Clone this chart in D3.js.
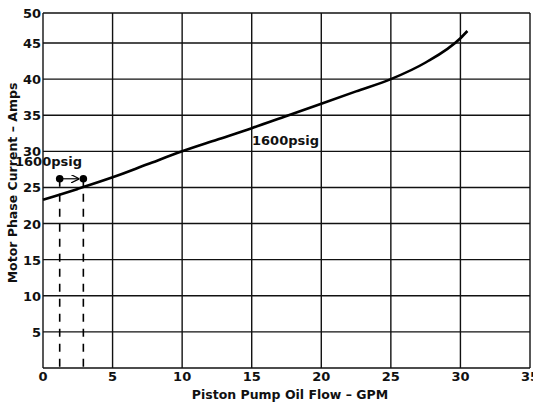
<!DOCTYPE html>
<html>
<head>
<meta charset="utf-8">
<script src="https://cdn.jsdelivr.net/npm/d3@7"></script>
<style>
  body { margin: 0; background: #fff; }
  svg { display: block; }
  .tick-label { font-family: "DejaVu Sans", sans-serif; font-weight: bold; font-size: 13px; fill: #111; }
  .title { font-family: "DejaVu Sans", sans-serif; font-weight: bold; font-size: 12.5px; fill: #111; }
  .note { font-family: "DejaVu Sans", sans-serif; font-weight: bold; font-size: 13px; fill: #111; }
</style>
</head>
<body>
<div id="vis1"></div>
<script>
// data
const FLOW = [0, 2.5, 5, 7.5, 10, 12.5, 15, 17.5, 20, 22.5, 25, 27.5, 30, 30.5];
const CURRENT = [23.3, 24.8, 26.4, 28.2, 30.0, 31.6, 33.2, 34.9, 36.6, 38.3, 40.0, 42.3, 45.8, 47.0];
const X_TICKS = [0, 5, 10, 15, 20, 25, 30, 35];
const Y_TICKS = [5, 10, 15, 20, 25, 30, 35, 40, 45, 50];
const MARKER_FLOW = [1.2, 2.9];
const MARKER_CURRENT = 26.2;
const LABEL = "1600psig";

// Frame
const FRAME_HEIGHT = 410;
const FRAME_WIDTH = 533;
const MARGINS = {left: 43, right: 3, top: 13, bottom: 42};

const FRAME1 = d3.select("#vis1")
                  .append("svg")
                    .attr("height", FRAME_HEIGHT)
                    .attr("width", FRAME_WIDTH);

// scales (the scan squeezes the top band a little)
const X_SCALE = d3.scaleLinear()
                    .domain([0, 35])
                    .range([MARGINS.left, FRAME_WIDTH - MARGINS.right]);

const Y_SCALE = d3.scaleLinear()
                    .domain([0, 45, 50])
                    .range([FRAME_HEIGHT - MARGINS.bottom, 43, MARGINS.top]);

// grid lines
FRAME1.selectAll(".vgrid")
      .data(X_TICKS)
      .enter()
      .append("line")
        .attr("x1", d => X_SCALE(d))
        .attr("x2", d => X_SCALE(d))
        .attr("y1", Y_SCALE(0))
        .attr("y2", Y_SCALE(50))
        .attr("stroke", "#111")
        .attr("stroke-width", 1.4);

FRAME1.selectAll(".hgrid")
      .data([0].concat(Y_TICKS))
      .enter()
      .append("line")
        .attr("x1", X_SCALE(0))
        .attr("x2", X_SCALE(35))
        .attr("y1", d => Y_SCALE(d))
        .attr("y2", d => Y_SCALE(d))
        .attr("stroke", "#111")
        .attr("stroke-width", 1.4);

// tick labels
FRAME1.selectAll(".xlab")
      .data(X_TICKS)
      .enter()
      .append("text")
        .attr("class", "tick-label")
        .attr("x", d => X_SCALE(d))
        .attr("y", 381)
        .attr("text-anchor", "middle")
        .text(d => d);

FRAME1.selectAll(".ylab")
      .data(Y_TICKS)
      .enter()
      .append("text")
        .attr("class", "tick-label")
        .attr("x", 41)
        .attr("y", d => Y_SCALE(d) + 5)
        .attr("text-anchor", "end")
        .text(d => d);

// axis titles
FRAME1.append("text")
      .attr("class", "title")
      .attr("x", 290)
      .attr("y", 399)
      .attr("text-anchor", "middle")
      .text("Piston Pump Oil Flow \u2013 GPM");

FRAME1.append("text")
      .attr("class", "title")
      .attr("transform", "translate(17," + 183 + ") rotate(-90)")
      .attr("text-anchor", "middle")
      .text("Motor Phase Current \u2013 Amps");

// current curve
const line = d3.line()
               .x((d, i) => X_SCALE(FLOW[i]))
               .y(d => Y_SCALE(d))
               .curve(d3.curveMonotoneX);

FRAME1.append("path")
      .datum(CURRENT)
      .attr("d", line)
      .attr("fill", "none")
      .attr("stroke", "#000")
      .attr("stroke-width", 2.6);

// dashed drop lines
FRAME1.selectAll(".drop")
      .data(MARKER_FLOW)
      .enter()
      .append("line")
        .attr("x1", d => X_SCALE(d))
        .attr("x2", d => X_SCALE(d))
        .attr("y1", Y_SCALE(MARKER_CURRENT))
        .attr("y2", Y_SCALE(0))
        .attr("stroke", "#000")
        .attr("stroke-width", 1.6)
        .attr("stroke-dasharray", "8,7");

// arrow between the two points
FRAME1.append("defs")
      .append("marker")
        .attr("id", "head")
        .attr("viewBox", "0 0 10 10")
        .attr("refX", 10)
        .attr("refY", 5)
        .attr("markerWidth", 7)
        .attr("markerHeight", 7)
        .attr("orient", "auto")
      .append("path")
        .attr("d", "M0,0 L10,5 L0,10")
        .attr("fill", "none")
        .attr("stroke", "#000")
        .attr("stroke-width", 1.5);

FRAME1.append("line")
      .attr("x1", X_SCALE(MARKER_FLOW[0]))
      .attr("x2", X_SCALE(MARKER_FLOW[1]) - 4)
      .attr("y1", Y_SCALE(MARKER_CURRENT))
      .attr("y2", Y_SCALE(MARKER_CURRENT))
      .attr("stroke", "#000")
      .attr("stroke-width", 1.2)
      .attr("marker-end", "url(#head)");

FRAME1.selectAll(".dot")
      .data(MARKER_FLOW)
      .enter()
      .append("circle")
        .attr("cx", d => X_SCALE(d))
        .attr("cy", Y_SCALE(MARKER_CURRENT))
        .attr("r", 3.8)
        .attr("fill", "#000");

// labels
FRAME1.append("text")
      .attr("class", "note")
      .attr("x", 15)
      .attr("y", 166)
      .text(LABEL);

FRAME1.append("text")
      .attr("class", "note")
      .attr("x", 252)
      .attr("y", 145)
      .text(LABEL);
</script>
</body>
</html>
